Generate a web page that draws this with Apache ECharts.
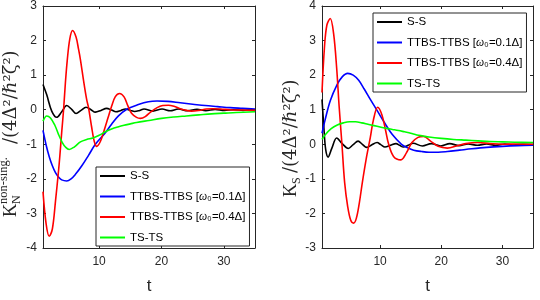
<!DOCTYPE html>
<html><head><meta charset="utf-8">
<script src="https://cdn.jsdelivr.net/npm/echarts@6/dist/echarts.min.js"></script>
<style>html,body{margin:0;padding:0;background:#fff}#c{width:540px;height:300px}</style>
</head><body><div id="c"></div>
<script>
// ---- data ----
const seriesNames = ['S-S', 'TTBS-TTBS [ω₀=0.1Δ]', 'TTBS-TTBS [ω₀=0.4Δ]', 'TS-TS'];
const seriesColors = ['#000000', '#0000ff', '#ff0000', '#00ff00'];
const xTickValues = [10, 20, 30];
const xTickLabels = ['10', '20', '30'];

// Left panel: K_N non-sing.
const ssLeftT = [1, 1.6, 2.4, 3.2, 4.0, 4.8, 5.6, 6.3, 7.1, 7.9, 8.7, 9.4, 10.3, 11.2, 12.0, 12.7, 13.5, 14.2, 15.0, 15.7, 16.5, 17.2, 18.6, 20.1, 21.4, 22.7, 24.2, 25.7, 27.1, 28.6, 30.1, 31.6, 33.1, 34.5, 35];
const ssLeftV = [0.73, 0.43, -0.04, -0.22, -0.06, 0.12, 0.01, -0.11, -0.02, 0.07, 0.0, -0.07, -0.02, 0.04, -0.01, -0.06, -0.02, 0.02, -0.02, -0.05, -0.02, 0.02, -0.04, 0.02, -0.03, 0.02, -0.03, 0.01, -0.03, 0.01, -0.02, 0.0, -0.02, 0.0, -0.01];

const ttbs1LeftT = [1, 1.5, 2, 2.5, 3, 3.5, 4, 4.8, 5.5, 6.2, 7.2, 8.3, 9.4, 10.9, 12, 13.1, 14.5, 16.3, 17.9, 19.3, 21, 23, 25, 27, 29, 31, 33, 35];
const ttbs1LeftV = [-0.6, -1.02, -1.36, -1.62, -1.82, -1.95, -2.03, -2.06, -2.0, -1.87, -1.63, -1.32, -1.0, -0.69, -0.42, -0.18, 0.02, 0.15, 0.23, 0.25, 0.24, 0.2, 0.16, 0.12, 0.09, 0.06, 0.04, 0.02];

const ttbs4LeftT = [1, 1.5, 2.0, 2.5, 3.0, 3.5, 3.7, 4.0, 4.3, 4.6, 4.9, 5.3, 5.74, 6.3, 6.7, 7.0, 7.5, 8.0, 8.3, 8.8, 9.2, 9.6, 10.2, 10.8, 11.4, 12.0, 12.6, 13.3, 14.0, 14.6, 15.2, 16.0, 16.6, 17.4, 18.3, 19.3, 20.2, 21.1, 22.0, 23.0, 24.0, 24.8, 26.0, 27.2, 28.2, 29.5, 31, 33, 35];
const ttbs4LeftV = [-2.37, -3.3, -3.66, -3.45, -2.65, -1.75, -1.34, -0.65, 0.0, 0.8, 1.45, 2.05, 2.29, 2.1, 1.75, 1.45, 0.85, 0.3, 0.06, -0.5, -0.9, -1.06, -0.92, -0.6, -0.25, 0.1, 0.38, 0.47, 0.37, 0.12, -0.1, -0.22, -0.25, -0.2, -0.06, 0.06, 0.12, 0.13, 0.1, 0.03, -0.02, -0.04, -0.02, 0.02, 0.03, 0.02, 0.0, -0.01, -0.02];

const tsLeftT = [1, 1.6, 2.2, 2.9, 3.5, 4.1, 4.6, 5.2, 6, 7, 8, 9, 10, 11, 12, 13, 14, 15, 16, 18, 20, 22, 24, 26, 28, 30, 32, 35];
const tsLeftV = [-0.33, -0.18, -0.24, -0.45, -0.72, -0.95, -1.08, -1.15, -1.08, -0.93, -0.86, -0.82, -0.74, -0.64, -0.56, -0.5, -0.45, -0.41, -0.37, -0.31, -0.25, -0.21, -0.18, -0.15, -0.12, -0.1, -0.08, -0.06];

// Right panel: K_S
const ssRightT = [0.5, 0.8, 1.1, 1.5, 2.1, 2.9, 3.8, 4.8, 5.6, 6.4, 7.1, 7.8, 8.6, 9.5, 10.1, 10.8, 11.7, 12.6, 13.2, 13.8, 14.6, 15.4, 16.9, 18.4, 19.9, 21.4, 22.9, 24.4, 25.9, 27.4, 28.9, 30.4, 31.9, 33.4, 35];
const ssRightV = [1.3, 0.5, -0.15, -0.37, -0.12, 0.18, 0.02, -0.12, -0.01, 0.09, 0.0, -0.09, -0.02, 0.05, -0.01, -0.08, -0.03, 0.02, -0.03, -0.08, -0.03, 0.03, -0.05, 0.02, -0.05, 0.02, -0.04, 0.01, -0.03, 0.01, -0.03, 0.01, -0.02, 0.0, -0.01];

const ttbs1RightT = [0.5, 1, 1.85, 2.95, 3.8, 4.7, 5.6, 6.5, 7.4, 8.4, 9.6, 10.8, 12.0, 13.5, 14.5, 15.5, 16.8, 18, 19.5, 21, 23, 25, 27.4, 30, 32.5, 35];
const ttbs1RightV = [0.32, 0.7, 1.26, 1.72, 1.95, 2.05, 2.0, 1.85, 1.6, 1.3, 0.95, 0.6, 0.28, 0.0, -0.1, -0.17, -0.21, -0.23, -0.23, -0.21, -0.17, -0.13, -0.09, -0.06, -0.04, -0.03];

const ttbs4RightT = [0.5, 0.9, 1.3, 1.85, 2.4, 2.9, 3.3, 3.76, 4.2, 4.7, 5.2, 5.66, 6.1, 6.6, 7.1, 7.7, 8.4, 8.9, 9.6, 10.3, 10.9, 11.4, 12.2, 13.4, 14.3, 15.2, 16.2, 17.1, 18.2, 19.5, 21, 22.5, 24, 26, 28, 30, 32, 35];
const ttbs4RightV = [1.5, 2.8, 3.45, 3.64, 3.2, 2.2, 1.1, 0.0, -1.1, -1.8, -2.2, -2.28, -2.15, -1.7, -1.1, -0.45, 0.2, 0.7, 1.07, 0.85, 0.4, 0.0, -0.35, -0.45, -0.25, 0.05, 0.2, 0.23, 0.1, -0.06, -0.11, -0.05, 0.02, 0.05, 0.02, 0.0, 0.01, 0.0];

const tsRightT = [0.5, 1, 2, 3, 4, 5, 6, 7, 8, 9, 10, 11, 12, 13, 14, 15, 16, 17, 18, 20, 22, 24, 26, 28, 30, 32, 35];
const tsRightV = [0.14, 0.27, 0.45, 0.56, 0.62, 0.65, 0.65, 0.62, 0.58, 0.54, 0.5, 0.46, 0.43, 0.4, 0.36, 0.32, 0.27, 0.24, 0.21, 0.17, 0.14, 0.12, 0.1, 0.08, 0.07, 0.06, 0.05];

// ---- chart ----
const pairs = (t, v) => t.map((x, i) => [x, v[i]]);
const leftData = [pairs(ssLeftT, ssLeftV), pairs(ttbs1LeftT, ttbs1LeftV), pairs(ttbs4LeftT, ttbs4LeftV), pairs(tsLeftT, tsLeftV)];
const rightData = [pairs(ssRightT, ssRightV), pairs(ttbs1RightT, ttbs1RightV), pairs(ttbs4RightT, ttbs4RightV), pairs(tsRightT, tsRightV)];

const AX = '#262626';
const SANS = '"Liberation Sans", Arial, sans-serif';
const SERIF = '"Liberation Serif", "DejaVu Serif", serif';
const DSERIF = '"DejaVu Serif", serif';

function xAxes(grid, min) {
  const base = {
    gridIndex: grid, type: 'value', min: min, max: 35,
    axisLine: { show: true, onZero: false, lineStyle: { color: AX, width: 1 } },
    axisTick: { show: true, inside: true, length: 3, lineStyle: { color: AX }, customValues: xTickValues },
    splitLine: { show: false }
  };
  return [
    Object.assign({}, base, {
      position: 'bottom',
      axisLabel: { show: true, color: AX, fontSize: 12, fontFamily: SANS, margin: 8,
        customValues: xTickValues, formatter: v => xTickLabels[xTickValues.indexOf(v)] || '' },
      name: 't', nameLocation: 'middle', nameGap: 30,
      nameTextStyle: { color: AX, fontSize: 17, fontFamily: SANS }
    }),
    Object.assign({}, base, { position: 'top', axisLabel: { show: false } })
  ];
}
function yAxes(grid, min, max) {
  const base = {
    gridIndex: grid, type: 'value', min: min, max: max, interval: 1,
    axisLine: { show: true, onZero: false, lineStyle: { color: AX, width: 1 } },
    axisTick: { show: true, inside: true, length: 3, lineStyle: { color: AX } },
    splitLine: { show: false }
  };
  return [
    Object.assign({}, base, { position: 'left',
      axisLabel: { show: true, color: AX, fontSize: 12, fontFamily: SANS, margin: 6 } }),
    Object.assign({}, base, { position: 'right', axisLabel: { show: false } })
  ];
}

const legendRich = {
  a: { fontSize: 11.5, fontFamily: SANS, color: '#000', lineHeight: 14 },
  w: { fontSize: 11.5, fontFamily: SERIF, fontStyle: 'italic', color: '#000', lineHeight: 14 }
};
function legendFmt(name) {
  const m = name.match(/^(.*\[)ω(.*)$/);
  if (m) return '{a|' + m[1] + '}{w|ω}{a|' + m[2] + '}';
  return '{a|' + name + '}';
}
function legend(left, top) {
  return {
    left: left, top: top, orient: 'vertical', data: seriesNames, icon: 'rect',
    itemWidth: 25, itemHeight: 2, itemGap: 6.5, padding: [2, 4, 1.5, 4],
    borderColor: AX, borderWidth: 1, backgroundColor: '#fff', borderRadius: 0,
    selectedMode: false, formatter: legendFmt,
    textStyle: { color: '#000', fontSize: 11.5, fontFamily: SANS, lineHeight: 14, rich: legendRich }
  };
}

const series = [];
[leftData, rightData].forEach((set, g) => {
  set.forEach((d, i) => {
    series.push({
      name: seriesNames[i], type: 'line', data: d,
      xAxisIndex: g * 2, yAxisIndex: g * 2,
      showSymbol: false, symbol: 'none', smooth: 0.35,
      color: seriesColors[i],
      lineStyle: { width: 1.6, color: seriesColors[i] },
      emphasis: { disabled: true }, animation: false
    });
  });
});

function yLabel(x, y, subText, supText, restGap) {
  const children = [
    { type: 'text', x: 0, y: 0, style: { text: 'K', fontSize: 18.5, fontFamily: SERIF, fill: AX, align: 'left', verticalAlign: 'middle' } },
    { type: 'text', x: 13, y: 6, style: { text: subText, fontSize: 12, fontFamily: SERIF, fill: AX, align: 'left', verticalAlign: 'middle' } }
  ];
  if (supText) children.push({ type: 'text', x: 13, y: -7.5, style: { text: supText, fontSize: 12.5, fontFamily: SERIF, fill: AX, align: 'left', verticalAlign: 'middle' } });
  children.push({ type: 'text', x: restGap, y: 0, style: { text: '/(4Δ²/ℏ²ζ²)', fontSize: 18, fontFamily: DSERIF, fill: AX, align: 'left', verticalAlign: 'middle' } });
  return { type: 'group', x: x, y: y, rotation: Math.PI / 2, children: children, silent: true };
}

const option = {
  animation: false,
  backgroundColor: '#fff',
  grid: [
    { left: 43, top: 5, width: 212, height: 251.5, containLabel: false },
    { left: 322, top: 5, width: 211, height: 251.5, containLabel: false }
  ],
  xAxis: [].concat(xAxes(0, 1), xAxes(1, 0.5)),
  yAxis: [].concat(yAxes(0, -4, 3), yAxes(1, -3, 4)),
  legend: [legend(96, 167), legend(373, 13)],
  series: series,
  graphic: [
    yLabel(11, 217, 'N', 'non-sing.', 73),
    yLabel(291, 197, 'S', null, 24)
  ]
};

const chart = echarts.init(document.getElementById('c'), null, { renderer: 'canvas' });
chart.setOption(option);
</script></body></html>
